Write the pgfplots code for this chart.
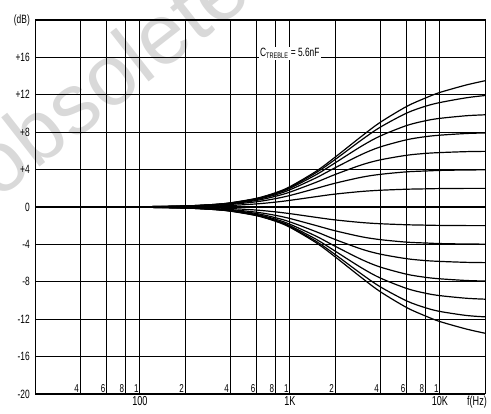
\documentclass[border=0pt]{standalone}
\usepackage{fontspec}
\setmainfont{Liberation Sans}[FakeStretch=0.7]
\newfontfamily\wmfont{Liberation Sans}
\usepackage{pgfplots}
\pgfplotsset{compat=1.18}
\usepackage{pgfplotstable}

\pgfplotstableread{
f     g0 g2   g4   g6   g8   g10  g12   g14
20    0  0    0    0    0    0    0     0
100   0  0.01 0.02 0.02 0.03 0.03 0.03  0.03
200   0  0.04 0.07 0.09 0.10 0.11 0.11  0.11
300   0  0.10 0.16 0.20 0.22 0.24 0.25  0.25
400   0  0.16 0.27 0.34 0.38 0.41 0.43  0.44
600   0  0.33 0.56 0.70 0.80 0.86 0.90  0.93
800   0  0.52 0.89 1.14 1.30 1.41 1.48  1.52
1000  0  0.71 1.23 1.59 1.84 2.00 2.10  2.17
1500  0  1.11 1.99 2.65 3.13 3.46 3.68  3.83
2000  0  1.38 2.54 3.47 4.19 4.71 5.07  5.32
3000  0  1.66 3.18 4.50 5.61 6.50 7.16  7.55
4000  0  1.79 3.49 5.04 6.42 7.59 8.53  9.05
6000  0  1.90 3.76 5.53 7.19 8.71 10.04 10.75
8000  0  1.94 3.85 5.73 7.52 9.22 10.77 11.65
10000 0  1.97 3.91 5.82 7.68 9.48 11.17 12.25
15000 0  1.99 3.96 5.92 7.86 9.76 11.68 13.05
20000 0  1.99 3.97 5.95 7.92 9.86 11.92 13.50
}\boost

\pgfplotstableread{
f     c2    c4    c6    c8    c10   c12    c14
20    0     0     0     0     0     0      0
100   -0.01 -0.02 -0.02 -0.03 -0.03 -0.03  -0.03
200   -0.04 -0.07 -0.09 -0.10 -0.11 -0.11  -0.11
300   -0.10 -0.16 -0.20 -0.22 -0.24 -0.25  -0.25
400   -0.16 -0.27 -0.34 -0.38 -0.41 -0.43  -0.44
600   -0.33 -0.56 -0.70 -0.80 -0.86 -0.90  -0.93
800   -0.52 -0.89 -1.14 -1.30 -1.41 -1.48  -1.52
1000  -0.71 -1.23 -1.59 -1.84 -2.00 -2.10  -2.17
1500  -1.11 -1.99 -2.65 -3.13 -3.46 -3.68  -3.83
2000  -1.38 -2.54 -3.47 -4.19 -4.71 -5.07  -5.32
3000  -1.66 -3.18 -4.50 -5.61 -6.50 -7.16  -7.55
4000  -1.79 -3.49 -5.04 -6.42 -7.59 -8.53  -9.05
6000  -1.90 -3.76 -5.53 -7.19 -8.71 -10.04 -10.75
8000  -1.94 -3.85 -5.73 -7.52 -9.22 -10.77 -11.65
10000 -1.97 -3.91 -5.82 -7.68 -9.48 -11.17 -12.25
15000 -1.99 -3.96 -5.92 -7.86 -9.76 -11.60 -13.05
20000 -1.99 -3.97 -5.95 -7.92 -9.86 -11.75 -13.50
}\cut

\pgfplotsset{tc/.style={black, line width=1.2pt, smooth, no markers}}

\begin{document}
\begin{tikzpicture}
\useasboundingbox (-35pt,-20pt) rectangle (456pt,394pt);
\node[rotate=38, text=black!15, font=\wmfont\fontsize{86}{86}\selectfont, inner sep=0pt] at (72pt,318pt) {obsolete};
\begin{axis}[
  at={(0pt,0pt)}, anchor=south west,
  width=450pt, height=374pt, scale only axis,
  xmode=log, xmin=20, xmax=20000, ymin=-20, ymax=20,
  xtick={40,60,80,100,200,400,600,800,1000,2000,4000,6000,8000,10000},
  xticklabels={4,6,8,1,2,4,6,8,1,2,4,6,8,1},
  xticklabel style={anchor=south east, inner sep=1pt, font=\fontsize{11.5}{12}\selectfont},
  ytick={-20,-16,...,20},
  yticklabels={-20,-16,-12,-8,-4,0,+4,+8,+12,+16,(dB)},
  yticklabel style={anchor=east, inner sep=0pt, xshift=-5pt, font=\fontsize{12}{13}\selectfont},
  major tick length=0pt,
  grid=major,
  grid style={black, line width=0.9pt},
  axis line style={black, line width=1pt},
  clip mode=individual,
]
\addplot[tc] table[x=f, y=g0] {\boost};
\addplot[tc] table[x=f, y=g2] {\boost};
\addplot[tc] table[x=f, y=g4] {\boost};
\addplot[tc] table[x=f, y=g6] {\boost};
\addplot[tc] table[x=f, y=g8] {\boost};
\addplot[tc] table[x=f, y=g10] {\boost};
\addplot[tc] table[x=f, y=g12] {\boost};
\addplot[tc] table[x=f, y=g14] {\boost};
\addplot[tc] table[x=f, y=c2] {\cut};
\addplot[tc] table[x=f, y=c4] {\cut};
\addplot[tc] table[x=f, y=c6] {\cut};
\addplot[tc] table[x=f, y=c8] {\cut};
\addplot[tc] table[x=f, y=c10] {\cut};
\addplot[tc] table[x=f, y=c12] {\cut};
\addplot[tc] table[x=f, y=c14] {\cut};
\node[fill=white, inner sep=1.5pt, font=\fontsize{12}{13}\selectfont] at (axis cs:1000,16.4) {C\textsubscript{TREBLE} = 5.6nF};
\node[anchor=north, inner sep=2pt, font=\fontsize{13}{14}\selectfont] at (axis cs:100,-20) {100};
\node[anchor=north, inner sep=2pt, font=\fontsize{13}{14}\selectfont] at (axis cs:1000,-20) {1K};
\node[anchor=north, inner sep=2pt, font=\fontsize{13}{14}\selectfont] at (axis cs:10000,-20) {10K};
\node[anchor=north, inner sep=2pt, xshift=-8pt, font=\fontsize{13}{14}\selectfont] at (rel axis cs:1,0) {f(Hz)};
\end{axis}
\end{tikzpicture}
\end{document}
